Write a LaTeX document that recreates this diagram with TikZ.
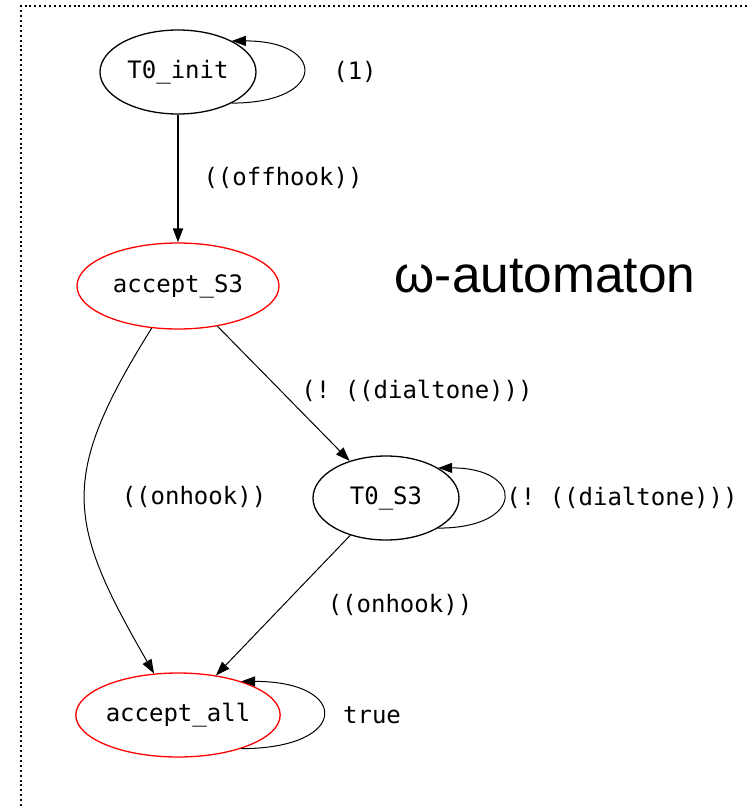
\documentclass[tikz,border=0pt]{standalone}
\usepackage{fontspec}
\setmonofont{DejaVu Sans Mono}
\newfontfamily\titlefont{Liberation Sans}
\usepackage{tikz}
\usetikzlibrary{positioning,shapes.geometric,arrows.meta}
\tikzset{
  state/.style={
    ellipse, draw, line width=1.3pt, inner sep=0pt,
    font=\ttfamily\fontsize{24}{28}\selectfont
  },
  accepting/.style={state, draw=red},
  lbl/.style={inner sep=0pt, font=\ttfamily\fontsize{24}{28}\selectfont},
  edge/.style={-{Triangle[length=14pt,width=10pt]}, line width=1pt},
  frame/.style={line width=2pt, dash pattern=on 2pt off 2.9pt}
}

\begin{document}
\begin{tikzpicture}[x=1pt,y=-1pt]
      \useasboundingbox (0,0) rectangle (749,806);
      \draw[frame] (21,806) -- (21,6) -- (749,6);

      \node[state, minimum width=156pt, minimum height=84pt] (T0init) at (178,72) {T0\_init};
      \node[accepting, on grid, below=214pt of T0init,
      minimum width=202pt, minimum height=86pt] (AcceptS3) {accept\_S3};
      \node[state, on grid, below right=212pt and 208pt of AcceptS3,
      minimum width=146pt, minimum height=84pt] (T0S3) {T0\_S3};
      \node[accepting, on grid, below=429pt of AcceptS3,
      minimum width=202pt, minimum height=84pt] (AcceptAll) {accept\_all};

      \node[on grid, above right=10pt and 367pt of AcceptS3, inner sep=0pt,
      font=\titlefont\fontsize{51.5}{60}\selectfont] (Title) {ω-automaton};

      \node[lbl, on grid, right=177pt of T0init] (Lone) {(1)};
      \node[lbl, on grid, below right=106pt and 105pt of T0init] (Loffhook) {((offhook))};
      \node[lbl, on grid, below right=105pt and 239pt of AcceptS3] (Ldial) {(!~((dialtone)))};
      \node[lbl, on grid, right=236pt of T0S3] (Ldialloop) {(!~((dialtone)))};
      \node[lbl, on grid, below right=211pt and 16pt of AcceptS3] (Lonhook) {((onhook))};
      \node[lbl, on grid, below right=107pt and 14pt of T0S3] (Lonhookb) {((onhook))};
      \node[lbl, on grid, right=194pt of AcceptAll] (Ltrue) {true};

      \draw[edge, line width=2pt] (T0init) -- (AcceptS3);
      \draw[edge] (AcceptS3) to[out=-122,in=120,looseness=1.3] (AcceptAll);
      \draw[edge] (AcceptS3) -- (T0S3);
      \draw[edge] (T0S3) -- (AcceptAll);
      \draw[edge] (T0init.-30) to[out=0,in=0,distance=95pt] (T0init.30);
      \draw[edge] (T0S3.-30) to[out=0,in=0,distance=87pt] (T0S3.30);
      \draw[edge] (AcceptAll.-28) to[out=0,in=0,distance=109pt] (AcceptAll.28);
    \end{tikzpicture}
\end{document}
